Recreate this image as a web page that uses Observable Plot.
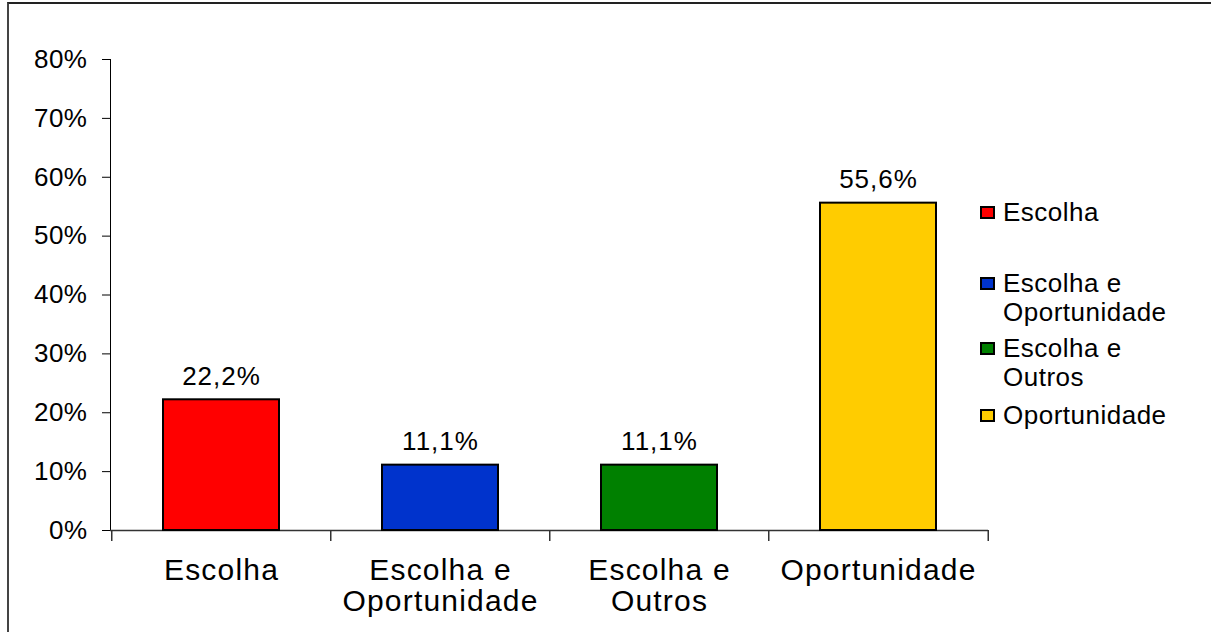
<!DOCTYPE html>
<html>
<head>
<meta charset="utf-8">
<script src="https://cdn.jsdelivr.net/npm/d3@7"></script>
<script src="https://cdn.jsdelivr.net/npm/@observablehq/plot@0.6"></script>
<style>
  html, body { margin: 0; padding: 0; background: #fff; overflow: hidden; }
  #wrap { position: relative; width: 1211px; height: 632px; font-family: "Liberation Sans", Arial, sans-serif; }
  #border { position: absolute; left: 7px; top: 2px; right: -10px; bottom: -10px;
            border-left: 2px solid #444; border-top: 2px solid #222; pointer-events: none; }
  .leg-item { position: absolute; left: 980px; font-size: 26px; line-height: 29px; letter-spacing: 0.5px; color: #000; }
  .leg-sw { position: absolute; left: 0; top: 8px; width: 15px; height: 13px; box-sizing: border-box; border: 2px solid #000; }
  .leg-tx { position: absolute; left: 23px; top: 0; white-space: pre; }
</style>
</head>
<body>
<div id="wrap"><div id="border"></div></div>
<script>
// ---- data ----
const categories = ["Escolha", "Escolha e Oportunidade", "Escolha e Outros", "Oportunidade"];
const axisLabels = ["Escolha", "Escolha e\nOportunidade", "Escolha e\nOutros", "Oportunidade"];
const values = [0.222, 0.111, 0.111, 0.556];
const colors = ["#FF0000", "#0033CC", "#008000", "#FFCC00"];
const yTicks = [0, 0.1, 0.2, 0.3, 0.4, 0.5, 0.6, 0.7, 0.8];
const legendLabels = ["Escolha", "Escolha e\nOportunidade", "Escolha e\nOutros", "Oportunidade"];

// ---- layout ----
const W = 1211, H = 632;
const ML = 110, MR = 223, MT = 59, MB = 102;
const step = (W - ML - MR) / categories.length;
const fontFamily = '"Liberation Sans", Arial, sans-serif';

const ptBR = d3.formatLocale({decimal: ",", thousands: ".", grouping: [3], currency: ["R$", ""]});
const fmtValue = ptBR.format(".1%");

const data = categories.map((c, i) => ({cat: c, value: values[i], label: axisLabels[i]}));

const chart = Plot.plot({
  width: W, height: H,
  marginLeft: ML, marginRight: MR, marginTop: MT, marginBottom: MB,
  style: {fontFamily, fontSize: "26px", color: "#000", background: "transparent", overflow: "visible"},
  x: {domain: categories, paddingInner: 0.4715, paddingOuter: 0.23575, align: 0.5, axis: null},
  y: {domain: [0, 0.8], ticks: yTicks, tickFormat: d3.format(".0%"), tickSize: 8, tickPadding: 15, line: true, label: null},
  color: {domain: categories, range: colors},
  marks: [
    Plot.ruleY([0], {stroke: "#333", strokeWidth: 1.5}),
    Plot.ruleX(categories, {x: d => d, y1: 0, y2: 0, insetBottom: -11, dx: -step / 2, stroke: "#333", strokeWidth: 1.5}),
    Plot.ruleX([categories[categories.length - 1]], {x: d => d, y1: 0, y2: 0, insetBottom: -11, dx: step / 2, stroke: "#333", strokeWidth: 1.5}),
    Plot.barY(data, {x: "cat", y: "value", fill: "cat", stroke: "#000", strokeWidth: 2}),
    Plot.text(data, {x: "cat", y: "value", text: d => fmtValue(d.value), dy: -23, fontSize: 26, lineAnchor: "middle", fill: "#000"}),
    Plot.text(data, {x: "cat", y: 0, text: "label", lineAnchor: "top", dy: 28, fontSize: 30, lineHeight: 1.03, fill: "#000"})
  ]
});

const wrap = document.getElementById("wrap");
chart.style.position = "absolute";
chart.style.left = "0px";
chart.style.top = "0px";
wrap.appendChild(chart);

// letter spacing to mimic the original wide rendering
const textGroups = chart.querySelectorAll('g[aria-label="text"]');
if (textGroups[0]) textGroups[0].style.letterSpacing = "1px";
if (textGroups[1]) textGroups[1].style.letterSpacing = "1.2px";
chart.querySelectorAll('g[aria-label^="y-axis"] text').forEach(t => t.style.letterSpacing = "0.5px");

// ---- legend ----
const legendTops = [197.5, 268.5, 333.5, 400.5];
legendLabels.forEach((lab, i) => {
  const item = document.createElement("div");
  item.className = "leg-item";
  item.style.top = legendTops[i] + "px";
  const sw = document.createElement("div");
  sw.className = "leg-sw";
  sw.style.background = colors[i];
  const tx = document.createElement("div");
  tx.className = "leg-tx";
  tx.textContent = lab;
  item.appendChild(sw);
  item.appendChild(tx);
  wrap.appendChild(item);
});
</script>
</body>
</html>
